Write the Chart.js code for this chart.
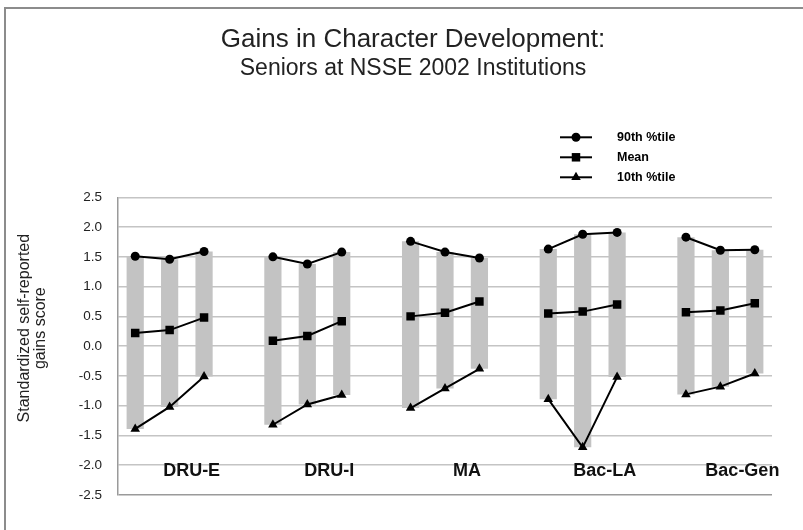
<!DOCTYPE html>
<html>
<head>
<meta charset="utf-8">
<script src="https://cdn.jsdelivr.net/npm/chart.js@4.4.1/dist/chart.umd.min.js"></script>
<style>
  html, body { margin: 0; padding: 0; background: #fff; }
  #wrap { position: relative; width: 803px; height: 530px; overflow: hidden; }
  #frame {
    position: absolute; left: 4px; top: 7px; width: 900px; height: 600px;
    border-left: 2px solid #8c8c8c; border-top: 2px solid #8c8c8c;
  }
  #chart { position: absolute; left: 0; top: 0; }
</style>
</head>
<body>
<div id="wrap">
  <div id="frame"></div>
  <canvas id="chart" width="803" height="530"></canvas>
</div>
<script>
// ---- data ----
const groups = ['DRU-E', 'DRU-I', 'MA', 'Bac-LA', 'Bac-Gen'];

// three bars per group, in group order
const p90 = [
  1.51, 1.46, 1.59,   // DRU-E
  1.50, 1.38, 1.58,   // DRU-I
  1.76, 1.58, 1.48,   // MA
  1.63, 1.88, 1.91,   // Bac-LA
  1.83, 1.61, 1.62    // Bac-Gen
];
const meanScore = [
  0.22, 0.27, 0.48,
  0.09, 0.17, 0.42,
  0.50, 0.56, 0.75,
  0.55, 0.58, 0.70,
  0.57, 0.60, 0.72
];
const p10 = [
  -1.39, -1.02, -0.51,
  -1.32, -0.98, -0.82,
  -1.04, -0.71, -0.38,
  -0.89, -1.70, -0.52,
  -0.81, -0.68, -0.46
];

const yTicks = ['-2.5', '-2.0', '-1.5', '-1.0', '-0.5', '0.0', '0.5', '1.0', '1.5', '2.0', '2.5'];

const titleText = 'Gains in Character Development:';
const subtitleText = 'Seniors at NSSE 2002 Institutions';
const yTitle = ['Standardized self-reported', 'gains score'];

// ---- slot layout: 3 bars per group, one empty slot between groups ----
const slotLabels = [];
function toSlots(values) {
  const out = [];
  groups.forEach((g, gi) => {
    for (let k = 0; k < 3; k++) out.push(values[gi * 3 + k]);
    if (gi < groups.length - 1) out.push(null);
  });
  return out;
}
groups.forEach((g, gi) => {
  for (let k = 0; k < 3; k++) slotLabels.push(g);
  if (gi < groups.length - 1) slotLabels.push('');
});

const hi = toSlots(p90);
const mid = toSlots(meanScore);
const lo = toSlots(p10);
const ranges = hi.map((h, i) => (h === null ? null : [lo[i], h]));

const FONT = '"Liberation Sans", Arial, Helvetica, sans-serif';

// group names, y title and the line+marker legend
const overlay = {
  id: 'overlay',
  afterDraw(chart) {
    const { ctx, chartArea } = chart;
    const x = chart.scales.x;
    const y = chart.scales.y;
    ctx.save();
    ctx.fillStyle = '#111';
    ctx.textBaseline = 'middle';

    // group labels near the bottom of the plot
    ctx.font = 'bold 18px ' + FONT;
    ctx.textAlign = 'center';
    groups.forEach((g, gi) => {
      ctx.fillText(g, x.getPixelForValue(gi * 4 + 1) + 22, y.getPixelForValue(-2.1));
    });

    // y axis title, two rotated lines
    ctx.font = '16px ' + FONT;
    ctx.fillStyle = '#222';
    const cy = (chartArea.top + chartArea.bottom) / 2 - 18;
    yTitle.forEach((line, i) => {
      ctx.save();
      ctx.translate(chartArea.left - 93 + i * 16, cy);
      ctx.rotate(-Math.PI / 2);
      ctx.fillText(line, 0, 0);
      ctx.restore();
    });

    // legend
    ctx.font = 'bold 12.5px ' + FONT;
    ctx.textAlign = 'left';
    ctx.fillStyle = '#000';
    const lx = chartArea.right - 212;
    chart.data.datasets.filter(ds => ds.type === 'line').forEach((ds, i) => {
      const ry = chartArea.top - 60 + i * 20;
      ctx.strokeStyle = '#000';
      ctx.lineWidth = 2;
      ctx.beginPath();
      ctx.moveTo(lx, ry);
      ctx.lineTo(lx + 32, ry);
      ctx.stroke();
      Chart.helpers.drawPoint(ctx, {
        pointStyle: ds.pointStyle, radius: ds.pointRadius, rotation: 0, borderWidth: 0
      }, lx + 16, ry);
      ctx.fillText(ds.label, lx + 57, ry);
    });
    ctx.restore();
  }
};

const lineBase = {
  type: 'line',
  borderColor: '#000',
  backgroundColor: '#000',
  pointBackgroundColor: '#000',
  pointBorderWidth: 0,
  borderWidth: 2,
  tension: 0,
  spanGaps: false,
  order: 0
};

new Chart(document.getElementById('chart'), {
  data: {
    labels: slotLabels,
    datasets: [
      Object.assign({}, lineBase, { label: '90th %tile', data: hi, pointStyle: 'circle', pointRadius: 4.5 }),
      Object.assign({}, lineBase, { label: 'Mean', data: mid, pointStyle: 'rect', pointRadius: 6 }),
      Object.assign({}, lineBase, { label: '10th %tile', data: lo, pointStyle: 'triangle', pointRadius: 5.5 }),
      {
        type: 'bar',
        label: 'range',
        data: ranges,
        backgroundColor: '#c3c3c3',
        borderWidth: 0,
        borderSkipped: false,
        categoryPercentage: 0.5,
        barPercentage: 1,
        order: 1
      }
    ]
  },
  options: {
    responsive: false,
    animation: false,
    devicePixelRatio: 1,
    layout: { padding: { left: 54, right: 31, top: 0, bottom: 35 } },
    plugins: {
      legend: { display: false },
      tooltip: { enabled: false },
      title: {
        display: true,
        text: titleText,
        color: '#222',
        font: { family: FONT, size: 26, weight: 'normal' },
        padding: { top: 24, bottom: 0 }
      },
      subtitle: {
        display: true,
        text: subtitleText,
        color: '#222',
        font: { family: FONT, size: 23, weight: 'normal' },
        padding: { top: 0, bottom: 114.5 }
      }
    },
    scales: {
      x: { display: false },
      y: {
        min: -2.5,
        max: 2.5,
        afterFit: s => { s.width = 64; },
        afterBuildTicks: s => { s.ticks = yTicks.map(t => ({ value: parseFloat(t) })); },
        ticks: {
          padding: 16,
          color: '#222',
          font: { family: FONT, size: 13.5 },
          callback: v => yTicks.find(t => parseFloat(t) === v)
        },
        grid: {
          drawTicks: false,
          lineWidth: 1.5,
          color: c => (c.tick && c.tick.value === -2.5 ? '#9a9a9a' : '#c4c4c4')
        },
        border: { display: true, color: '#9a9a9a', width: 1.5 }
      }
    }
  },
  plugins: [overlay]
});
</script>
</body>
</html>
